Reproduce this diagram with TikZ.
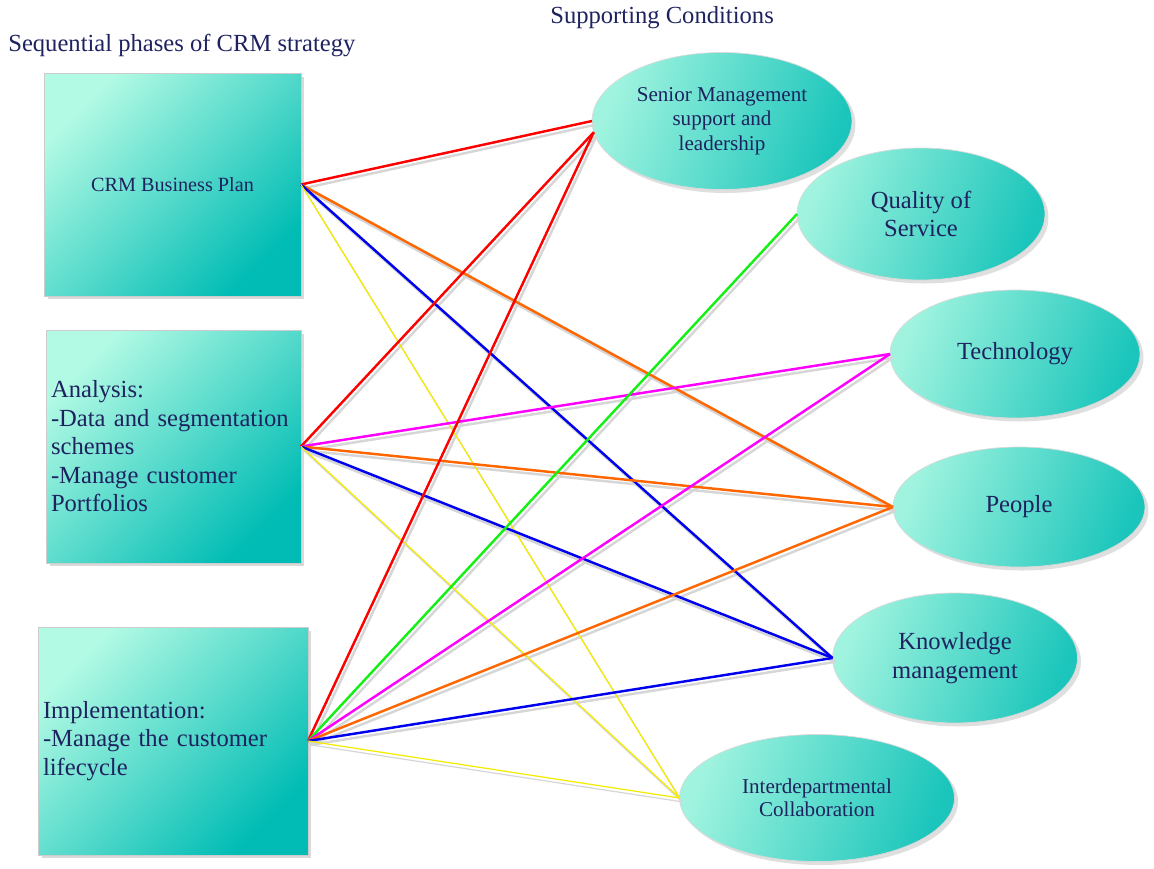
\documentclass[tikz,border=0pt]{standalone}
\usepackage{fontspec}
\setmainfont{Liberation Serif}
\definecolor{textnavy}{RGB}{30, 35, 95}
\definecolor{aqualight}{RGB}{178, 250, 228}
\definecolor{aquadark}{RGB}{0, 188, 180}
\definecolor{orange1}{RGB}{255, 102, 0}
\definecolor{green1}{RGB}{20, 240, 20}
\definecolor{magenta1}{RGB}{255, 0, 255}
\definecolor{blue1}{RGB}{0, 0, 240}
\definecolor{yellow1}{RGB}{245, 235, 0}
\usetikzlibrary{shapes.geometric, shadows}

\begin{document}
\begin{tikzpicture}[x=0.02cm, y=-0.02cm,
  phase/.style={draw=black!20, top color=aqualight, bottom color=aquadark, shading angle=45,
    drop shadow={shadow xshift=2pt, shadow yshift=-2pt, fill=black!25, opacity=0.6},
    inner sep=0.1cm, outer sep=0pt, text=textnavy, font=\fontsize{14}{16.2}\selectfont},
  cond/.style={ellipse, draw=black!15, top color=aqualight!90!aquadark, bottom color=aquadark!85!aqualight, shading angle=70,
    drop shadow={shadow xshift=2pt, shadow yshift=-2pt, fill=black!25, opacity=0.5},
    inner sep=0pt, outer sep=0pt, align=center, text=textnavy, font=\fontsize{14}{16.2}\selectfont},
  link/.style={line width=1.4pt},
  thinlink/.style={line width=0.7pt}]
  \useasboundingbox (0,0) rectangle (1154,869);

  % Titles
  \node[anchor=west, inner sep=0pt, text=textnavy, font=\fontsize{14}{16}\selectfont] (phasetitle) at (8,45) {Sequential phases of CRM strategy};
  \node[anchor=west, inner sep=0pt, text=textnavy, font=\fontsize{14}{16}\selectfont] (condtitle) at (550,18) {Supporting Conditions};

  % Phases
  \node[phase, minimum width=5.14cm, minimum height=4.46cm, font=\fontsize{11.5}{14}\selectfont] (b1) at (172.5,184.5) {CRM Business Plan};
  \node[phase, minimum height=4.66cm, text width=4.9cm, align=left] (b2) at (173.5,446.5) {Analysis:\\-Data and segmentation\\schemes\\-Manage customer\\Portfolios};
  \node[phase, minimum height=4.56cm, text width=5.2cm, align=left] (b3) at (173,741) {Implementation:\\-Manage the customer\\lifecycle};

  % Supporting conditions
  \node[cond, minimum width=5.2cm, minimum height=2.74cm, font=\fontsize{12}{14}\selectfont] (sm) at (722,121) {Senior Management\\support and\\leadership};
  \node[cond, minimum width=4.96cm, minimum height=2.64cm] (qs) at (921,214) {Quality of\\Service};
  \node[cond, minimum width=5.0cm, minimum height=2.56cm] (te) at (1015,354) {Technology};
  \node[cond, minimum width=5.04cm, minimum height=2.4cm] (pe) at (1019,507) {People};
  \node[cond, minimum width=4.9cm, minimum height=2.6cm] (km) at (955,658) {Knowledge\\management};
  \node[cond, minimum width=5.5cm, minimum height=2.54cm, font=\fontsize{12}{13}\selectfont] (id) at (817,798) {Interdepartmental\\Collaboration};

  % Connectors
  \def\linklist{b1/sm.west/red/link, b1/pe.west/orange1/link, b1/km.west/blue1/link, b1/id.west/yellow1/thinlink,
    b2/sm.185/red/link, b2/te.west/magenta1/link, b2/pe.west/orange1/link, b2/km.west/blue1/link, b2/id.west/yellow1/thinlink,
    b3/sm.185/red/link, b3/qs.west/green1/link, b3/te.west/magenta1/link, b3/pe.west/orange1/link, b3/km.west/blue1/link, b3/id.west/yellow1/thinlink}
  \foreach \src/\dst/\col/\sty in \linklist
    \draw[\sty, black!16] ([shift={(1.5pt,-2.2pt)}]\src.east) -- ([shift={(1.5pt,-2.2pt)}]\dst);
  \foreach \src/\dst/\col/\sty in \linklist
    \draw[\sty, \col] (\src.east) -- (\dst);
\end{tikzpicture}
\end{document}
